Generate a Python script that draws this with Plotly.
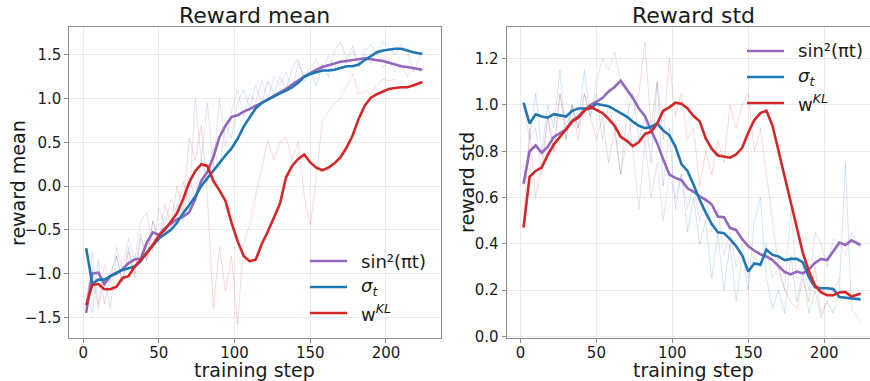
import plotly.graph_objects as go

steps = [2, 6, 10, 14, 18, 22, 26, 30, 34, 38, 42, 46, 50, 54, 58, 62, 66, 70, 74, 78,
         82, 86, 90, 94, 98, 102, 106, 110, 114, 118, 122, 126, 130, 134, 138, 142, 146, 150, 154, 158,
         162, 166, 170, 174, 178, 182, 186, 190, 194, 198, 202, 206, 210, 214, 218, 224]

# ---- Reward mean (smoothed) ----
mean_sin = [-1.45, -1.00, -0.99, -1.12, -1.03, -1.00, -0.95, -0.88, -0.84, -0.83, -0.65, -0.53, -0.56, -0.48, -0.43, -0.38, -0.35, -0.30, -0.15, 0.06,
            0.16, 0.33, 0.56, 0.69, 0.79, 0.81, 0.85, 0.88, 0.92, 0.95, 0.99, 1.03, 1.07, 1.11, 1.16, 1.21, 1.25, 1.29, 1.33, 1.36,
            1.38, 1.40, 1.42, 1.43, 1.44, 1.45, 1.46, 1.45, 1.44, 1.43, 1.41, 1.39, 1.37, 1.36, 1.35, 1.33]
mean_sigma = [-0.71, -1.12, -1.07, -1.07, -1.03, -0.99, -0.96, -0.94, -0.92, -0.86, -0.76, -0.68, -0.60, -0.55, -0.50, -0.42, -0.31, -0.22, -0.12, 0.00,
              0.09, 0.18, 0.27, 0.35, 0.43, 0.54, 0.68, 0.79, 0.89, 0.95, 0.99, 1.03, 1.06, 1.09, 1.13, 1.18, 1.25, 1.28, 1.30, 1.32,
              1.32, 1.33, 1.35, 1.37, 1.37, 1.39, 1.44, 1.49, 1.53, 1.55, 1.56, 1.57, 1.57, 1.55, 1.53, 1.51]
mean_kl = [-1.36, -1.13, -1.12, -1.18, -1.18, -1.15, -1.05, -1.03, -0.92, -0.85, -0.77, -0.67, -0.57, -0.50, -0.40, -0.31, -0.15, 0.04, 0.17, 0.25,
           0.23, 0.06, -0.05, -0.17, -0.42, -0.63, -0.80, -0.86, -0.84, -0.66, -0.52, -0.37, -0.20, 0.10, 0.23, 0.31, 0.36, 0.27, 0.21, 0.18,
           0.21, 0.26, 0.33, 0.44, 0.58, 0.77, 0.92, 1.01, 1.05, 1.08, 1.11, 1.12, 1.13, 1.13, 1.15, 1.19]

# ---- Reward mean (raw, faint) ----
mean_sin_raw = [-1.40, -0.75, -1.35, -0.90, -1.10, -0.70, -0.95, -0.60, -0.85, -0.40, -0.30, -0.75, -0.25, -0.45, -0.15, -0.30, 0.05, -0.20, 1.00, 0.30,
                0.95, 0.20, 1.00, 0.45, 0.85, 1.10, 0.80, 1.05, 0.95, 1.20, 1.00, 1.25, 1.15, 1.30, 1.10, 1.40, 1.25, 1.35, 1.45, 1.30,
                1.50, 1.35, 1.45, 1.40, 1.55, 1.35, 1.50, 1.40, 1.55, 1.35, 1.45, 1.30, 1.40, 1.25, 1.35, 1.30]
mean_sigma_raw = [-1.20, -1.45, -0.85, -1.35, -1.00, -0.80, -1.10, -0.70, -1.05, -0.60, -0.85, -0.40, -0.65, -0.35, -0.50, -0.20, -0.40, 0.10, -0.15, 0.30,
                  0.05, 0.45, 0.20, 0.70, 0.55, 0.95, 1.10, 0.90, 1.15, 0.95, 1.20, 1.05, 1.25, 1.10, 1.35, 1.45, 1.20, 1.30, 1.15, 1.40,
                  1.25, 1.55, 1.65, 1.45, 1.60, 1.40, 1.55, 1.62, 1.50, 1.65, 1.60, 1.50, 1.62, 1.55, 1.30, 1.55]
mean_kl_raw = [-1.30, -0.95, -1.40, -1.05, -1.40, -0.80, -1.10, -0.75, -1.00, -0.55, -0.85, -0.40, -0.60, -0.20, -0.45, 0.00, -0.30, 0.55, 0.30, 0.70,
               -0.10, -1.40, -0.70, -1.20, -0.80, -1.58, -0.65, -0.45, -0.10, 0.20, 0.52, 0.30, 0.50, 0.56, 0.30, 0.50, -0.10, -0.45, 0.10, 0.75,
               0.85, 0.95, 1.00, 1.15, 1.28, 1.05, 1.10, 1.05, 1.15, 1.22, 1.20, 1.22, None, None, None, None]

# ---- Reward std (smoothed) ----
std_sin = [0.66, 0.80, 0.825, 0.793, 0.82, 0.862, 0.878, 0.893, 0.932, 0.95, 0.975, 1.00, 1.014, 1.03, 1.058, 1.078, 1.105, 1.07, 1.03, 0.985,
           0.952, 0.89, 0.835, 0.765, 0.70, 0.685, 0.675, 0.64, 0.625, 0.605, 0.59, 0.57, 0.518, 0.515, 0.468, 0.46, 0.42, 0.39, 0.37, 0.355,
           0.345, 0.33, 0.305, 0.278, 0.268, 0.28, 0.272, 0.29, 0.318, 0.335, 0.33, 0.366, 0.405, 0.395, 0.415, 0.395]
std_sigma = [1.01, 0.92, 0.96, 0.95, 0.945, 0.96, 0.955, 0.95, 0.975, 0.985, 0.985, 0.985, 1.005, 1.00, 0.995, 0.98, 0.965, 0.95, 0.928, 0.91,
             0.90, 0.905, 0.92, 0.89, 0.87, 0.82, 0.745, 0.715, 0.655, 0.59, 0.535, 0.485, 0.45, 0.446, 0.42, 0.39, 0.35, 0.28, 0.315, 0.31,
             0.375, 0.352, 0.345, 0.33, 0.335, 0.335, 0.32, 0.255, 0.212, 0.208, 0.208, 0.205, 0.17, 0.168, 0.165, 0.16]
std_kl = [0.47, 0.69, 0.715, 0.73, 0.785, 0.83, 0.862, 0.895, 0.928, 0.945, 0.975, 0.992, 0.98, 0.965, 0.94, 0.91, 0.862, 0.845, 0.822, 0.84,
          0.875, 0.884, 0.92, 0.975, 0.99, 1.01, 1.005, 0.985, 0.952, 0.93, 0.855, 0.81, 0.782, 0.778, 0.772, 0.786, 0.815, 0.88, 0.935, 0.965,
          0.975, 0.91, 0.80, 0.69, 0.58, 0.47, 0.36, 0.28, 0.22, 0.19, 0.178, 0.178, 0.19, 0.192, 0.172, 0.185]

# ---- Reward std (raw, faint) ----
std_sin_raw = [0.65, 0.85, 0.90, 0.70, 0.95, 0.80, 1.05, 0.85, 1.00, 0.90, 1.05, 0.95, 1.10, 1.20, 1.15, 1.23, 1.10, 1.05, 0.80, 0.55,
               0.85, 0.60, 0.75, 0.50, 0.70, 0.60, 0.70, 0.55, 0.65, 0.50, 0.60, 0.45, 0.55, 0.35, 0.45, 0.30, 0.40, 0.25, 0.35, 0.30,
               0.40, 0.25, 0.30, 0.20, 0.55, 0.25, 0.30, 0.20, 0.45, 0.40, 0.30, 0.42, 0.40, 0.35, 0.45, 0.38]
std_sigma_raw = [1.00, 0.85, 1.05, 0.80, 1.00, 0.90, 1.15, 0.85, 1.00, 0.90, 1.15, 0.95, 1.05, 0.85, 1.00, 0.90, 0.70, 0.95, 1.05, 0.85,
                 0.95, 0.75, 1.10, 0.65, 0.90, 0.55, 0.70, 0.45, 0.60, 0.40, 0.50, 0.25, 0.45, 0.20, 0.40, 0.15, 0.35, 0.20, 0.50, 0.60,
                 0.25, 0.12, 0.20, 0.10, 0.35, 0.15, 0.28, 0.10, 0.20, 0.08, 0.15, 0.10, 0.20, 0.75, 0.12, 0.06]
std_kl_raw = [0.50, 0.90, 0.60, 0.75, 0.95, 0.80, 1.05, 0.90, 1.00, 0.85, 1.05, 0.95, 0.85, 0.95, 0.75, 0.90, 0.70, 0.85, 0.95, 1.05,
              1.27, 0.90, 1.10, 0.85, 1.20, 0.95, 1.05, 0.85, 0.90, 0.65, 0.80, 0.70, 0.85, 0.75, 1.00, 0.90, 1.00, 1.05, 0.80, 0.90,
              0.70, 0.50, 0.30, 0.20, 0.15, 0.12, 0.25, 0.15, 0.30, 0.10, 0.15, 0.20, 0.25, None, None, None]

legend_labels = ["sin²(πt)", "<i>σ</i><sub><i>t</i></sub>", "w<sup><i>KL</i></sup>"]
colors = ["#9467bd", "#1f77b4", "#d62728"]
faint = ["rgba(148,103,189,0.2)", "rgba(31,119,180,0.2)", "rgba(214,39,40,0.18)"]

FONT = "DejaVu Sans"
TXT = "#1a1a1a"
W, H = 870, 381

fig = go.Figure()

panels = [
    ("x", "y", [mean_sin_raw, mean_sigma_raw, mean_kl_raw], [mean_sin, mean_sigma, mean_kl]),
    ("x2", "y2", [std_sin_raw, std_sigma_raw, std_kl_raw], [std_sin, std_sigma, std_kl]),
]
for xa, ya, raws, smooths in panels:
    for r, c in zip(raws, faint):
        fig.add_trace(go.Scatter(x=steps, y=r, mode="lines", line=dict(color=c, width=1),
                                 xaxis=xa, yaxis=ya, showlegend=False, hoverinfo="skip"))
    for s, c in zip(smooths, colors):
        fig.add_trace(go.Scatter(x=steps, y=s, mode="lines", line=dict(color=c, width=2.6),
                                 xaxis=xa, yaxis=ya, showlegend=False))

ydom = [43 / H, 354 / H]
axis_common = dict(showgrid=True, gridcolor="#ebebeb", gridwidth=1, zeroline=False,
                   showline=True, linecolor="#8c8c8c", linewidth=1, automargin=False,
                   ticks="outside", ticklen=4, tickcolor="#8c8c8c",
                   tickfont=dict(family=FONT, size=15, color=TXT))

fig.update_layout(
    template="none",
    width=W, height=H, margin=dict(l=0, r=0, t=0, b=0, pad=0, autoexpand=False),
    paper_bgcolor="white", plot_bgcolor="white", showlegend=False,
    xaxis=dict(domain=[69.3 / W, 440.8 / W], range=[-9.15, 236.2], tickvals=[0, 50, 100, 150, 200],
               mirror=True, anchor="y", ticklabelstandoff=-3, **axis_common),
    yaxis=dict(domain=ydom, range=[-1.737, 1.818], tickvals=[-1.5, -1.0, -0.5, 0.0, 0.5, 1.0, 1.5],
               ticktext=["−1.5", "−1.0", "−0.5", "0.0", "0.5", "1.0", "1.5"],
               mirror=True, anchor="x", **axis_common),
    xaxis2=dict(domain=[506.6 / W, 1.0], range=[-9.15, 230.2], tickvals=[0, 50, 100, 150, 200],
                mirror=True, anchor="y2", ticklabelstandoff=-3, **axis_common),
    yaxis2=dict(domain=ydom, range=[-0.007, 1.337], tickvals=[0.0, 0.2, 0.4, 0.6, 0.8, 1.0, 1.2],
                ticktext=["0.0", "0.2", "0.4", "0.6", "0.8", "1.0", "1.2"],
                mirror=False, anchor="x2", **axis_common),
)

def px(xp, yp):
    return xp / W, 1 - yp / H

annotations = []
def text(s, xp, yp, size, xanchor="center", angle=0):
    x, y = px(xp, yp)
    annotations.append(dict(text=s, x=x, y=y, xref="paper", yref="paper", showarrow=False,
                            xanchor=xanchor, yanchor="middle", textangle=angle, borderpad=0,
                            font=dict(family=FONT, size=size, color=TXT)))

text("Reward mean", 255, 15, 22)
text("Reward std", 693, 15, 22)
text("training step", 255, 370, 19)
text("training step", 693, 370, 19)
text("reward mean", 18, 183, 19, angle=-90)
text("reward std", 467, 183, 19, angle=-90)

shapes = []
legend_pos = [(310, 347, 360, [261, 287, 313]), (747, 784, 797, [51, 77, 103])]
for x0, x1, xt, ys in legend_pos:
    for lab, c, yp in zip(legend_labels, colors, ys):
        a0, b0 = px(x0, yp)
        a1, _ = px(x1, yp)
        shapes.append(dict(type="line", xref="paper", yref="paper", x0=a0, x1=a1, y0=b0, y1=b0,
                           line=dict(color=c, width=2.6)))
        text(lab, xt, yp, 18, xanchor="left")

fig.update_layout(annotations=annotations, shapes=shapes)
fig.write_html("out.html")
